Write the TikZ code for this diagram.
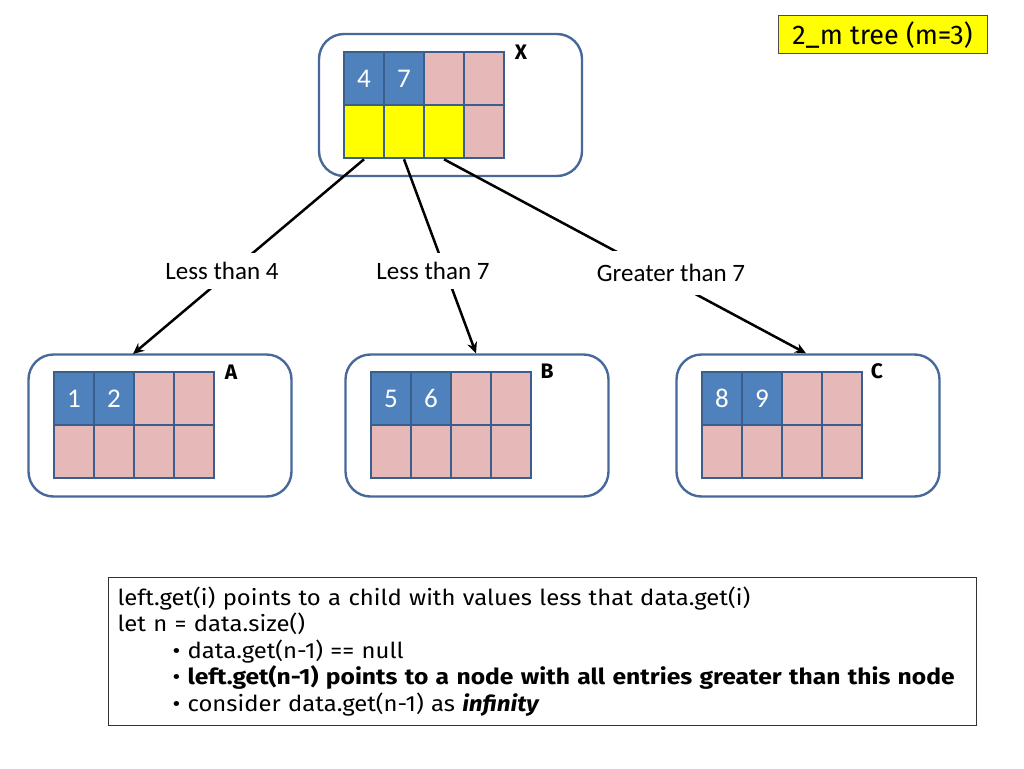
\documentclass[tikz,border=0pt]{standalone}
\usepackage{fontspec}
\setmainfont{Carlito}
\newfontfamily\comic{Fira Sans}
\newfontfamily\comicn[FakeStretch=1.085,BoldFeatures={FakeStretch=1.12},BoldItalicFeatures={FakeStretch=1.1}]{Fira Sans}
\usetikzlibrary{arrows.meta}
\definecolor{cblue}{HTML}{4F81BD}
\definecolor{cedge}{HTML}{3A5F8C}
\definecolor{cpink}{HTML}{E6B9B8}
\definecolor{cyel}{HTML}{FFFF00}
\definecolor{contedge}{HTML}{46699A}
\tikzset{
  cell/.style={draw=cedge, line width=2.6pt, minimum width=40pt, minimum height=53pt, inner sep=0pt, font=\fontsize{27}{27}\selectfont, text=white},
  bluecell/.style={cell, fill=cblue},
  pinkcell/.style={cell, fill=cpink},
  yelcell/.style={cell, fill=cyel},
  container/.style={draw=contedge, line width=2.4pt, rounded corners=25pt, minimum width=263pt, minimum height=142pt},
  tag/.style={font=\comic\bfseries\fontsize{21}{21}\selectfont},
  edgelabel/.style={fill=white, inner sep=9pt, font=\fontsize{25}{25}\selectfont},
  link/.style={line width=2.5pt, -{Stealth[length=11pt,width=10pt]}},
}
\begin{document}
\begin{tikzpicture}[x=1pt,y=-1pt]
\useasboundingbox (0,0) rectangle (1024,768);
% containers
\node[container] (X) at (450.5,105) {};
\node[container] (A) at (160,425.5) {};
\node[container] (B) at (477,425.5) {};
\node[container] (C) at (808,425.5) {};
% X cells
\node[bluecell] (x1) at (364,78.5) {4};
\node[bluecell] (x2) at (404,78.5) {7};
\node[pinkcell] (x3) at (444,78.5) {};
\node[pinkcell] (x4) at (484,78.5) {};
\node[yelcell] (y1) at (364,131.5) {};
\node[yelcell] (y2) at (404,131.5) {};
\node[yelcell] (y3) at (444,131.5) {};
\node[pinkcell] (y4) at (484,131.5) {};
% A cells
\node[bluecell] (a1) at (74,398.5) {1};
\node[bluecell] (a2) at (114,398.5) {2};
\node[pinkcell] (a3) at (154,398.5) {};
\node[pinkcell] (a4) at (194,398.5) {};
\foreach \i/\x in {5/74,6/114,7/154,8/194} \node[pinkcell] (a\i) at (\x,451.5) {};
% B cells
\node[bluecell] (b1) at (391,398.5) {5};
\node[bluecell] (b2) at (431,398.5) {6};
\node[pinkcell] (b3) at (471,398.5) {};
\node[pinkcell] (b4) at (511,398.5) {};
\foreach \i/\x in {5/391,6/431,7/471,8/511} \node[pinkcell] (b\i) at (\x,451.5) {};
% C cells
\node[bluecell] (c1) at (722,398.5) {8};
\node[bluecell] (c2) at (762,398.5) {9};
\node[pinkcell] (c3) at (802,398.5) {};
\node[pinkcell] (c4) at (842,398.5) {};
\foreach \i/\x in {5/722,6/762,7/802,8/842} \node[pinkcell] (c\i) at (\x,451.5) {};
% tags
\node[tag] (tx) at (521,52) {X};
\node[tag] (ta) at (231,372) {A};
\node[tag] (tb) at (547,371) {B};
\node[tag] (tc) at (877,371) {C};
% connectors
\coordinate (ea) at (133,354);
\draw[link] (y1.south) -- (ea);
\draw[link] (y2.south) -- (B.north -| 476,0);
\draw[link] (y3.south) -- (C.north -| 806,0);
% labels
\node[edgelabel] (l1) at (222,271) {Less than 4};
\node[edgelabel, inner xsep=4pt] (l2) at (433,271) {Less than 7};
\node[edgelabel, inner ysep=13pt] (l3) at (671,273) {Greater than 7};
% title
\node[draw=black!70, line width=1pt, fill=cyel, minimum width=209pt, minimum height=38pt, font=\comic\fontsize{27}{27}\selectfont] (title) at (882.5,35) {2\_m tree (m=3)};
% notes
\node[draw=black!80, line width=1pt, anchor=north west, text width=850pt, minimum height=148pt, inner xsep=9pt, inner ysep=6pt, align=left, font=\comicn\fontsize{22}{26.5}\selectfont] (notes) at (108,577) {%
left.get(i) points to a child with values less that data.get(i)\\
let n = data.size()\\
\hspace*{55pt}\textbullet\ data.get(n-1) == null\\
\hspace*{55pt}\textbullet\ \textbf{left.get(n-1) points to a node with all entries greater than this node}\\
\hspace*{55pt}\textbullet\ consider data.get(n-1) as \textbf{\textit{infinity}}};
\end{tikzpicture}
\end{document}
